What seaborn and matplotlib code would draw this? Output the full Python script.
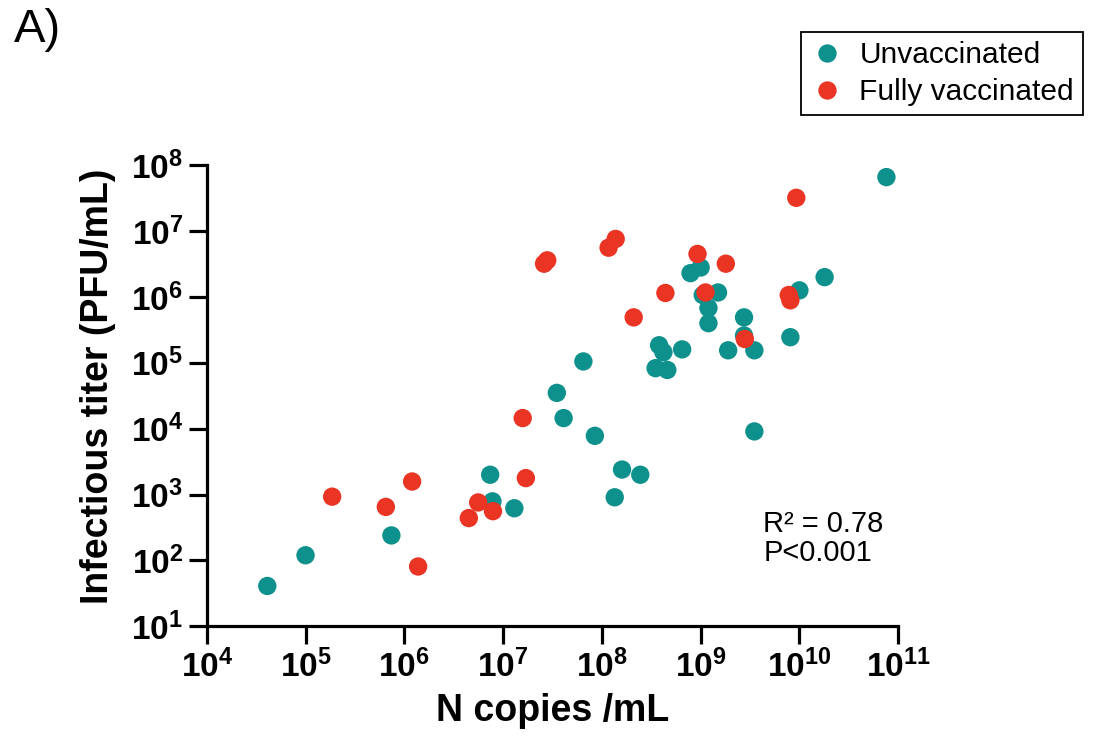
import math
import pandas as pd
import seaborn as sns
import matplotlib.pyplot as plt
from matplotlib.ticker import LogLocator, FuncFormatter, NullLocator

unvax_copies = [4.1e4, 1.0e5, 7.4e5, 7.4e6, 7.8e6, 1.3e7, 3.5e7, 4.1e7, 6.5e7, 8.5e7,
                1.35e8, 1.6e8, 2.45e8, 3.5e8, 3.8e8, 4.2e8, 4.6e8, 6.5e8, 7.9e8, 1.0e9,
                1.05e9, 1.2e9, 1.2e9, 1.5e9, 1.9e9, 2.75e9, 2.75e9, 3.5e9, 3.5e9, 8.1e9,
                1.0e10, 1.8e10, 7.6e10]
unvax_titer = [41, 120, 240, 2000, 790, 620, 3.5e4, 1.45e4, 1.05e5, 7800,
               910, 2400, 2000, 8.3e4, 1.85e5, 1.45e5, 7.8e4, 1.6e5, 2.3e6, 2.8e6,
               1.07e6, 6.8e5, 4.0e5, 1.17e6, 1.55e5, 4.9e5, 2.6e5, 1.55e5, 9100, 2.45e5,
               1.26e6, 2.0e6, 6.6e7]
vax_copies = [1.86e5, 6.5e5, 1.2e6, 1.38e6, 4.5e6, 5.6e6, 7.9e6, 1.58e7, 1.7e7, 2.6e7,
              2.8e7, 1.17e8, 1.38e8, 2.1e8, 4.4e8, 9.3e8, 1.12e9, 1.8e9, 2.8e9, 7.8e9,
              8.1e9, 9.3e9]
vax_titer = [930, 650, 1580, 81, 440, 760, 560, 1.45e4, 1780, 3.2e6,
             3.6e6, 5.6e6, 7.6e6, 4.9e5, 1.15e6, 4.5e6, 1.17e6, 3.2e6, 2.3e5, 1.07e6,
             8.9e5, 3.2e7]
groups = ['Unvaccinated', 'Fully vaccinated']
colors = {'Unvaccinated': '#0E918C', 'Fully vaccinated': '#EA3424'}

df = pd.DataFrame({
    'copies': unvax_copies + vax_copies,
    'titer': unvax_titer + vax_titer,
    'group': [groups[0]] * len(unvax_copies) + [groups[1]] * len(vax_copies),
})

sns.set_style('ticks', {'text.color': 'black', 'axes.labelcolor': 'black',
                        'xtick.color': 'black', 'ytick.color': 'black',
                        'axes.edgecolor': 'black'})
plt.rcParams['font.family'] = ['Liberation Sans', 'DejaVu Sans']
plt.rcParams['mathtext.fontset'] = 'custom'
plt.rcParams['mathtext.bf'] = 'Liberation Sans:bold'
plt.rcParams['mathtext.rm'] = 'Liberation Sans'

fig = plt.figure(figsize=(10.94, 7.51), dpi=100)
ax = fig.add_axes([0.189, 0.166, 0.632, 0.614])

sns.scatterplot(data=df, x='copies', y='titer', hue='group', hue_order=groups,
                palette=colors, s=175, linewidth=0, alpha=1, ax=ax, zorder=3)

ax.set_xscale('log')
ax.set_yscale('log')
ax.set_xlim(1e4, 1e11)
ax.set_ylim(1e1, 1e8)
ax.xaxis.set_major_locator(LogLocator(base=10, numticks=20))
ax.yaxis.set_major_locator(LogLocator(base=10, numticks=20))
ax.xaxis.set_minor_locator(NullLocator())
ax.yaxis.set_minor_locator(NullLocator())
fmt = FuncFormatter(lambda v, p: r'$\mathbf{10^{%d}}$' % round(math.log10(v)))
ax.xaxis.set_major_formatter(fmt)
ax.yaxis.set_major_formatter(fmt)
ax.tick_params(axis='both', which='major', direction='out', length=13, width=2.3,
               labelsize=24, color='black', labelcolor='black', pad=4)

sns.despine(ax=ax)
for side in ['left', 'bottom']:
    ax.spines[side].set_linewidth(2.3)

ax.set_xlabel('N copies /mL', fontsize=27, fontweight='bold', labelpad=6)
ax.set_ylabel('Infectious titer (PFU/mL)', fontsize=27, fontweight='bold')
ax.yaxis.set_label_coords(-0.131, 0.52)

ax.text(0.805, 0.252, 'R\u00b2 = 0.78\nP<0.001', transform=ax.transAxes,
        fontsize=21, va='top', ha='left', linespacing=1.05)

handles, labels = ax.get_legend_handles_labels()
leg = ax.legend(handles, labels, loc='upper right', bbox_to_anchor=(0.99, 0.957),
                bbox_transform=fig.transFigure, fontsize=21.5, frameon=True,
                fancybox=False, edgecolor='black', framealpha=1, borderaxespad=0,
                handletextpad=0.55, borderpad=0.3, labelspacing=0.3,
                handlelength=1.1, markerscale=1.0)
leg.get_frame().set_linewidth(1.3)

fig.text(0.013, 0.944, 'A)', fontsize=34, va='baseline', ha='left')

fig.savefig('out.png', dpi=100)
